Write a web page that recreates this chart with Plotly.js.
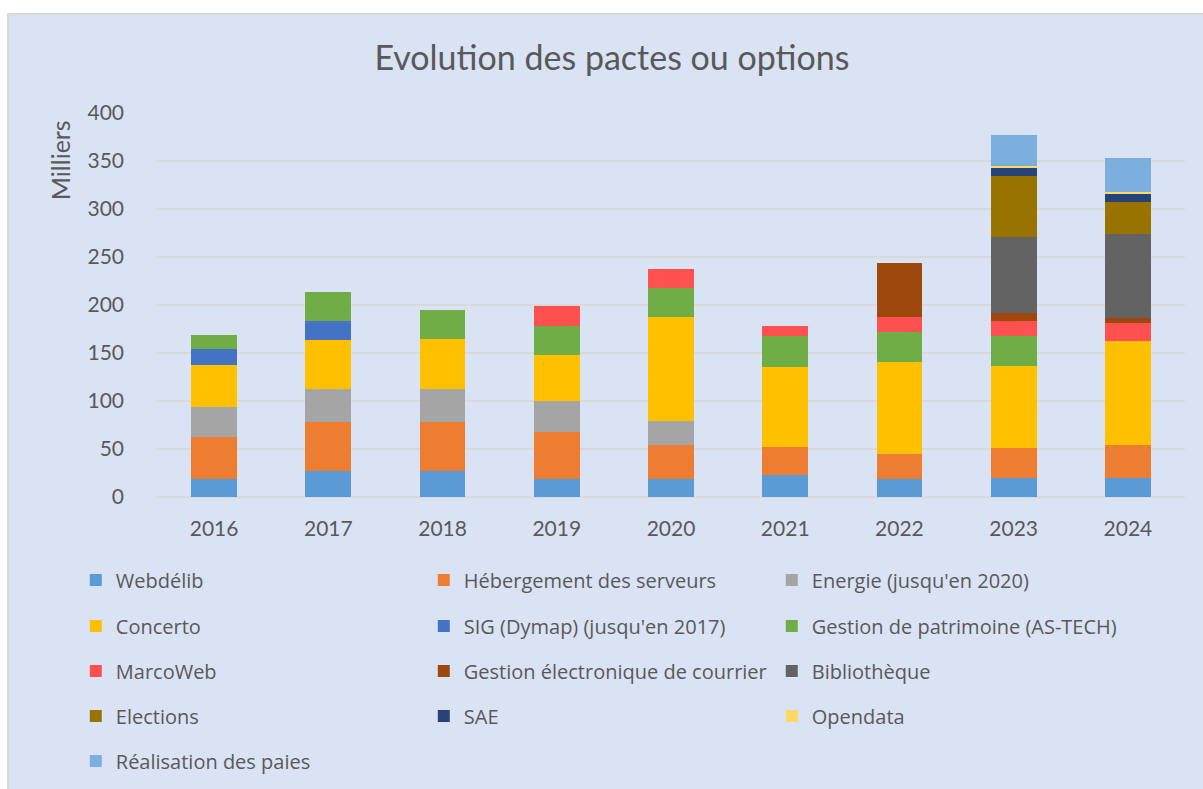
<!DOCTYPE html>
<html>
<head>
<meta charset="utf-8">
<script src="https://cdn.plot.ly/plotly-3.0.1.min.js"></script>
<style>
  html, body { margin: 0; padding: 0; background: #ffffff; width: 1203px; height: 789px; overflow: hidden; }
  #frame { position: absolute; left: 7px; top: 13px; width: 1196px; height: 776px;
           border-left: 2px solid #d9d9d9; border-top: 2px solid #d9d9d9; background: #dae3f3; }
  #chart { width: 1194px; height: 774px; }
</style>
</head>
<body>
<div id="frame"><div id="chart"></div></div>
<script>
const years = ['2016','2017','2018','2019','2020','2021','2022','2023','2024'];

const webdelib     = [19, 27, 27, 19, 19, 23, 19, 20, 20];
const hebergement  = [44, 51, 51, 49, 35, 29.5, 25.5, 31, 34];
const energie      = [31, 34, 34.5, 32, 25, null, null, null, null];
const concerto     = [43, 52, 52, 48, 109, 83, 96, 85.5, 108];
const sig          = [17, 19, null, null, null, null, null, null, null];
const patrimoine   = [15, 31, 30.5, 30, 30, 32, 31, 31, null];
const marcoweb     = [null, null, null, 20.5, 19, 11, 16, 16, 19];
const courrier     = [null, null, null, null, null, null, 56, 8, 5];
const bibliotheque = [null, null, null, null, null, null, null, 79, 88];
const elections    = [null, null, null, null, null, null, null, 64, 33];
const sae          = [null, null, null, null, null, null, null, 8, 9.5];
const opendata     = [null, null, null, null, null, null, null, 2.5, 1.5];
const paies        = [null, null, null, null, null, null, null, 32.5, 35];

const seriesNames = ['Webdélib', 'Hébergement des serveurs', "Energie (jusqu'en 2020)",
  'Concerto', "SIG (Dymap) (jusqu'en 2017)", 'Gestion de patrimoine (AS-TECH)',
  'MarcoWeb', 'Gestion électronique de courrier', 'Bibliothèque',
  'Elections', 'SAE', 'Opendata', 'Réalisation des paies'];
const seriesValues = [webdelib, hebergement, energie, concerto, sig, patrimoine,
  marcoweb, courrier, bibliotheque, elections, sae, opendata, paies];
const seriesColors = ['#5B9BD5', '#ED7D31', '#A5A5A5', '#FFC000', '#4472C4', '#70AD47',
  '#FF5050', '#9E480E', '#636363', '#997300', '#264478', '#FFD966', '#7CAFDD'];
const legendIds = ['legend','legend','legend','legend2','legend2','legend2',
  'legend3','legend3','legend3','legend4','legend4','legend4','legend5'];

const FONT = 'Lato, "Noto Sans", sans-serif';
const LFONT = '"Open Sans", "Noto Sans", sans-serif';
const GREY = '#595959';

const traces = seriesNames.map((name, i) => ({
  type: 'bar',
  name: name,
  x: years,
  y: seriesValues[i],
  marker: { color: seriesColors[i], line: { width: 0 } },
  legend: legendIds[i],
  hoverinfo: 'x+y+name'
}));

function legendRow(y) {
  return {
    orientation: 'h', x: -0.079, xanchor: 'left', y: y, yanchor: 'middle',
    bgcolor: 'rgba(0,0,0,0)', font: { family: LFONT, size: 20, color: GREY },
    entrywidth: 303, entrywidthmode: 'pixels', traceorder: 'normal'
  };
}

const layout = {
  width: 1194, height: 774,
  paper_bgcolor: '#dae3f3', plot_bgcolor: '#dae3f3',
  margin: { l: 148, r: 18, t: 98, b: 292, pad: 0, autoexpand: false },
  barmode: 'stack', bargap: 0.6,
  font: { family: FONT, color: GREY },
  title: { text: 'Evolution des pactes ou options', x: 0.505, xanchor: 'center',
           y: 0.944, yanchor: 'middle', font: { family: FONT, size: 34, color: GREY } },
  xaxis: { type: 'category', showgrid: false, showline: false, ticks: '',
           tickfont: { family: FONT, size: 21, color: GREY }, ticklabelstandoff: 17 },
  yaxis: { range: [0, 400], tickvals: [0, 50, 100, 150, 200, 250, 300, 350, 400],
           showgrid: true, gridcolor: '#d9d9d9', gridwidth: 1.5,
           zeroline: true, zerolinecolor: '#d9d9d9', zerolinewidth: 1.5,
           showline: false, ticks: '', tickfont: { family: FONT, size: 21, color: GREY },
           ticklabelstandoff: 32 },
  legend: legendRow(-0.2159),
  legend2: legendRow(-0.3357),
  legend3: legendRow(-0.4530),
  legend4: legendRow(-0.5702),
  legend5: legendRow(-0.6874),
  annotations: [{
    text: 'Milliers', xref: 'paper', yref: 'paper', x: -0.0944, y: 0.877,
    xanchor: 'center', yanchor: 'middle', textangle: -90, showarrow: false,
    font: { family: FONT, size: 25, color: GREY }
  }]
};

Plotly.newPlot('chart', traces, layout, { displayModeBar: false, responsive: false });
</script>
</body>
</html>
